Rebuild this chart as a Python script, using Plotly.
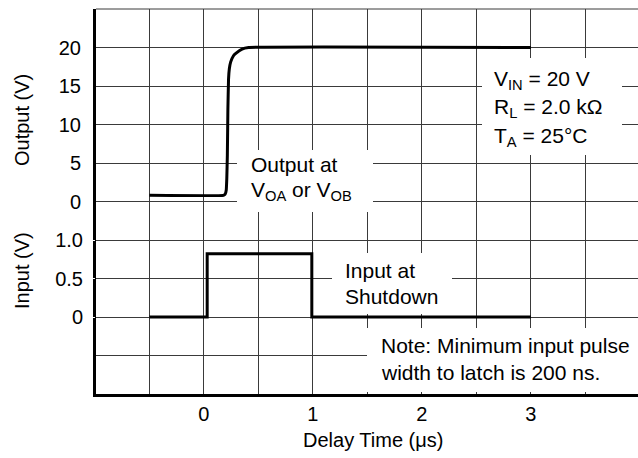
import plotly.graph_objects as go

# ---- data ----
out_t = [-0.5, 0.18, 0.195, 0.205, 0.21, 0.215, 0.22, 0.226, 0.233, 0.245, 0.27, 0.29, 0.35, 0.41, 3.0]
out_v = [0.8, 0.8, 0.95, 1.5, 3.0, 6.0, 12.0, 15.9, 17.2, 18.1, 18.9, 19.2, 19.8, 20.0, 20.0]

in_t = [-0.5, 0.03, 0.03, 0.99, 0.99, 3.0]
in_v = [0.0, 0.0, 0.82, 0.82, 0.0, 0.0]

out_ticks = [0, 5, 10, 15, 20]
out_labels = ["0", "5", "10", "15", "20"]
in_ticks = [0, 0.5, 1.0]
in_labels = ["0", "0.5", "1.0"]

W, H = 638, 458
L, R, T, B = 96, 0, 9, 64
FONT = "Liberation Sans, Arial, Helvetica, sans-serif"
XPX = 109.0                      # px per µs
YPX = (H - T - B) / 50.0         # px per volt on the output axis
X0 = -0.99


def px(x):
    return (x - L) / (W - L - R)


def py(y):
    return (H - B - y) / (H - T - B)


def dx(x):
    return (x - L) / XPX + X0


def dy(y):
    return 25 - (y - T) / YPX


fig = go.Figure()
fig.add_trace(go.Scatter(x=out_t, y=out_v, mode="lines", yaxis="y",
                         line=dict(color="black", width=3, shape="spline", smoothing=0.3),
                         hoverinfo="skip", showlegend=False))
fig.add_trace(go.Scatter(x=in_t, y=in_v, mode="lines", yaxis="y2",
                         line=dict(color="black", width=3),
                         hoverinfo="skip", showlegend=False))

grid_col = "#3a3a3a"
TICKFONT = dict(size=20, family=FONT, color="black")

fig.update_layout(
    width=W, height=H,
    margin=dict(l=L, r=R, t=T, b=B, pad=0),
    paper_bgcolor="white", plot_bgcolor="white",
    font=dict(family=FONT, color="black", size=20),
    xaxis=dict(range=[X0, X0 + (W - L - R) / XPX], tickmode="linear", tick0=0, dtick=1,
               showgrid=True, gridcolor=grid_col, gridwidth=1, zeroline=False,
               minor=dict(tick0=0, dtick=0.5, showgrid=True, gridcolor=grid_col,
                          gridwidth=1, ticks=""),
               showline=True, linecolor="black", linewidth=3,
               ticks="outside", ticklen=3, tickcolor="white",
               ticklabelstandoff=-3, tickfont=TICKFONT),
    yaxis=dict(range=[-25, 25], tickmode="array", tickvals=out_ticks,
               ticktext=out_labels,
               showgrid=True, gridcolor=grid_col, gridwidth=1, zeroline=False,
               showline=True, linecolor="black", linewidth=3,
               ticks="outside", ticklen=9, tickcolor="white",
               ticklabelstandoff=-1, tickfont=TICKFONT),
    yaxis2=dict(range=[-1, 4], overlaying="y", side="left", tickmode="array",
                tickvals=in_ticks, ticktext=in_labels, showgrid=True, gridcolor=grid_col,
                gridwidth=1, zeroline=False, showline=False,
                ticks="outside", ticklen=9, tickcolor="white",
                ticklabelstandoff=-1, tickfont=TICKFONT),
)

shapes = [
    # top frame line and the unlabelled grid row of the input panel
    dict(type="line", xref="paper", yref="paper", x0=0, x1=1, y0=1, y1=1,
         line=dict(color=grid_col, width=1)),
    dict(type="line", xref="paper", yref="y2", x0=0, x1=1, y0=-0.5, y1=-0.5,
         line=dict(color=grid_col, width=1), layer="below"),
]
# white label boxes (pixel boxes: x0, y0, x1, y1)
boxes = [(237, 150, 373, 212), (482, 58, 622, 155), (332, 253, 452, 314), (367, 328, 640, 392)]
for x0, y0, x1, y1 in boxes:
    shapes.append(dict(type="rect", xref="x", yref="y", x0=dx(x0), x1=dx(x1),
                       y0=dy(y1), y1=dy(y0), fillcolor="white", line=dict(width=0),
                       layer="between"))
fig.update_layout(shapes=shapes)

texts = [
    ("Output at", 249, 164),
    ("V<sub>OA</sub> or V<sub>OB</sub>", 249, 191),
    ("V<sub>IN</sub> = 20 V", 492, 80),
    ("R<sub>L</sub> = 2.0 kΩ", 492, 108),
    ("T<sub>A</sub> = 25°C", 492, 137),
    ("Input at", 343, 270),
    ("Shutdown", 343, 296),
    ("Note: Minimum input pulse", 379, 345),
    ("width to latch is 200 ns.", 379, 372),
]
ann = []
for t, x, y in texts:
    ann.append(dict(text=t, xref="paper", yref="paper", x=px(x), y=py(y),
                    xanchor="left", yanchor="middle", showarrow=False,
                    font=dict(size=21, family=FONT, color="black")))
ann.append(dict(text="Output (V)", xref="paper", yref="paper", x=px(22), y=py(120),
                xanchor="center", yanchor="middle", textangle=-90, showarrow=False,
                font=dict(size=20, family=FONT)))
ann.append(dict(text="Input (V)", xref="paper", yref="paper", x=px(22), y=py(271),
                xanchor="center", yanchor="middle", textangle=-90, showarrow=False,
                font=dict(size=20, family=FONT)))
ann.append(dict(text="Delay Time (μs)", xref="paper", yref="paper", x=px(373), y=py(440),
                xanchor="center", yanchor="middle", showarrow=False,
                font=dict(size=20, family=FONT)))
fig.update_layout(annotations=ann)

fig.write_html("out.html", config={"displayModeBar": False},
               post_script="document.body.style.margin='0';document.body.style.padding='0';")
